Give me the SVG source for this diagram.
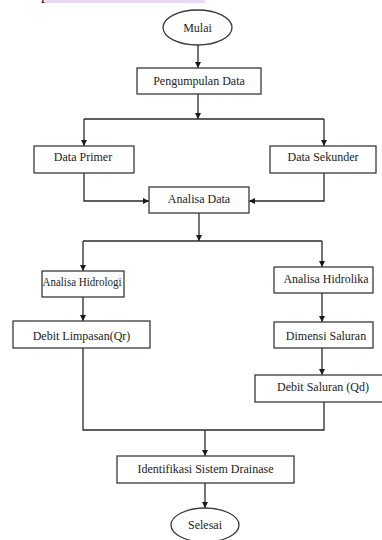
<svg xmlns="http://www.w3.org/2000/svg" width="382" height="540" viewBox="0 0 382 540">
<style>
.box{fill:#fff;stroke:#3a3a3a;stroke-width:1.3}
.t{font-family:"Liberation Serif","Times New Roman",serif;font-size:12px;fill:#222;text-anchor:middle}
.c{fill:none;stroke:#2a2a2a;stroke-width:1.3}
</style>
<defs>
<marker id="ah" markerWidth="6" markerHeight="6" refX="6" refY="3" orient="auto" markerUnits="userSpaceOnUse">
<path d="M0,0 L6,3 L0,6 Z" fill="#1a1a1a"/>
</marker>
</defs>
<rect width="382" height="540" fill="#fff"/>
<rect x="45" y="0" width="160" height="3" fill="#ead9f0"/>
<text x="41" y="-1" style="font-family:'Liberation Serif',serif;font-size:16px;fill:#222">p</text>
<g id="connectors">
<path class="c" d="M198,45 V68" marker-end="url(#ah)"/>
<path class="c" d="M198,94 V119" marker-end="url(#ah)"/>
<path class="c" d="M84,119 H324"/>
<path class="c" d="M84,119 V146" marker-end="url(#ah)"/>
<path class="c" d="M324,119 V146" marker-end="url(#ah)"/>
<path class="c" d="M84,173 V201 H149" marker-end="url(#ah)"/>
<path class="c" d="M324,173 V201 H249" marker-end="url(#ah)"/>
<path class="c" d="M199,213 V241" marker-end="url(#ah)"/>
<path class="c" d="M83,241 H322"/>
<path class="c" d="M83,241 V271" marker-end="url(#ah)"/>
<path class="c" d="M322,241 V267" marker-end="url(#ah)"/>
<path class="c" d="M83,297 V321" marker-end="url(#ah)"/>
<path class="c" d="M322,293 V322" marker-end="url(#ah)"/>
<path class="c" d="M322,348 V375" marker-end="url(#ah)"/>
<path class="c" d="M83,348 V430 H324 V402"/>
<path class="c" d="M205,430 V456" marker-end="url(#ah)"/>
<path class="c" d="M205,483 V508" marker-end="url(#ah)"/>
</g>
<g id="mulai"><ellipse class="box" cx="197.5" cy="27.5" rx="34.5" ry="17.5"/><text class="t" x="197.5" y="31.5">Mulai</text></g>
<g id="pengumpulan"><rect class="box" x="137" y="68" width="124" height="26"/><text class="t" x="199" y="85">Pengumpulan Data</text></g>
<g id="primer"><rect class="box" x="34" y="146" width="100" height="27"/><text class="t" x="83" y="161">Data Primer</text></g>
<g id="sekunder"><rect class="box" x="270" y="146" width="106" height="27"/><text class="t" x="323" y="161">Data Sekunder</text></g>
<g id="analisa-data"><rect class="box" x="149" y="187" width="100" height="26"/><text class="t" x="199" y="203">Analisa Data</text></g>
<g id="hidrologi"><rect class="box" x="42" y="271" width="82" height="26"/><text class="t" x="82" y="286" textLength="79" lengthAdjust="spacingAndGlyphs">Analisa Hidrologi</text></g>
<g id="hidrolika"><rect class="box" x="274" y="267" width="99" height="26"/><text class="t" x="326" y="283" textLength="85" lengthAdjust="spacingAndGlyphs">Analisa Hidrolika</text></g>
<g id="limpasan"><rect class="box" x="13" y="321" width="137" height="27"/><text class="t" x="81.5" y="340">Debit Limpasan(Qr)</text></g>
<g id="dimensi"><rect class="box" x="274" y="322" width="99" height="26"/><text class="t" x="326" y="340">Dimensi Saluran</text></g>
<g id="debit-saluran"><rect class="box" x="255" y="375" width="128" height="27"/><text class="t" x="323" y="391">Debit Saluran (Qd)</text></g>
<g id="identifikasi"><rect class="box" x="117" y="456" width="177" height="27"/><text class="t" x="205.5" y="473">Identifikasi Sistem Drainase</text></g>
<g id="selesai"><ellipse class="box" cx="205" cy="525" rx="34" ry="17"/><text class="t" x="205" y="529">Selesai</text></g>
</svg>
